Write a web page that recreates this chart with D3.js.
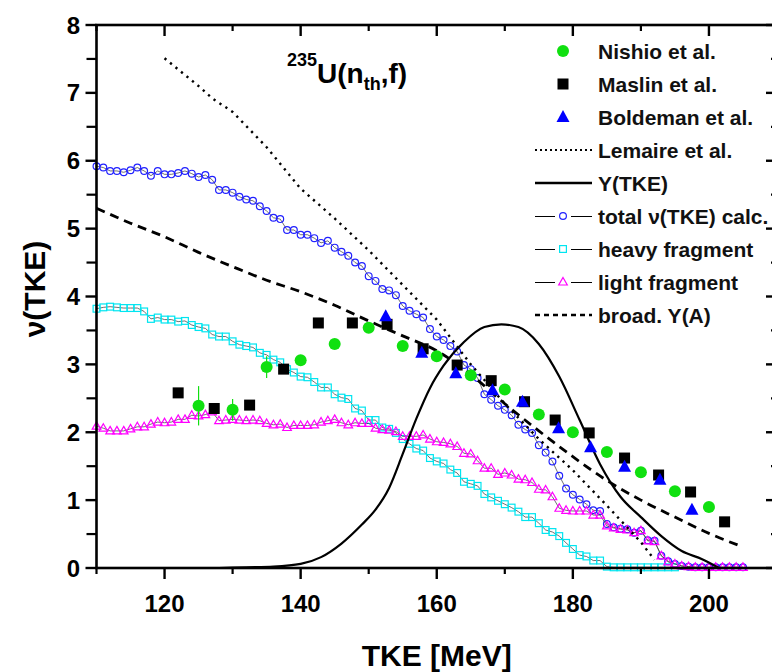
<!DOCTYPE html>
<html>
<head>
<meta charset="utf-8">
<script src="https://cdn.jsdelivr.net/npm/d3@7"></script>
<style>
  body { margin: 0; background: #fff; }
  svg { font-family: "Liberation Sans", Arial, sans-serif; font-weight: bold; }
</style>
</head>
<body>
<script>
//experimental data: Nishio et al.
var nishioTke = [125, 130, 135, 140, 145, 150, 155, 160, 165, 170, 175, 180, 185, 190, 195, 200];
var nishioNu = [2.39, 2.33, 2.96, 3.06, 3.30, 3.54, 3.27, 3.12, 2.84, 2.63, 2.26, 2.00, 1.71, 1.41, 1.13, 0.90];
var nishioErr = [0.29, 0.16, 0.16, 0.05, 0.05, 0.05, 0.05, 0.04, 0.04, 0.04, 0.04, 0.04, 0.04, 0.04, 0.04, 0.04];

//Maslin et al.
var maslinTke = [122, 127.3, 132.5, 137.5, 142.6, 147.6, 152.7, 158, 163, 168, 172.9, 177.4, 182.4, 187.6, 192.6, 197.3, 202.3];
var maslinNu = [2.58, 2.35, 2.40, 2.93, 3.61, 3.61, 3.59, 3.23, 2.99, 2.76, 2.45, 2.18, 1.99, 1.62, 1.37, 1.12, 0.68];

//Boldeman et al.
var boldemanTke = [152.5, 157.8, 162.8, 168.2, 172.6, 177.9, 182.6, 187.6, 192.8, 197.5];
var boldemanNu = [3.71, 3.17, 2.87, 2.62, 2.45, 2.06, 1.78, 1.49, 1.30, 0.86];

//Lemaire et al. (dotted)
var lemaireTke = [120, 125, 127, 130, 135, 140, 145, 150, 155, 160, 165, 170, 175, 180, 185, 190, 192];
var lemaireNu = [7.51, 7.10, 6.92, 6.72, 6.20, 5.59, 5.15, 4.68, 4.17, 3.66, 3.00, 2.42, 1.90, 1.44, 0.92, 0.38, 0.12];

//Y(TKE) (solid)
var yTke = [128, 132, 136, 140, 143, 146, 149, 151, 153, 155, 157, 159, 161, 164, 167, 169.5, 172, 175, 178, 181, 184, 187, 190, 193, 196, 199, 201.5];
var yVal = [0, 0.01, 0.02, 0.06, 0.16, 0.36, 0.64, 0.86, 1.18, 1.68, 2.20, 2.65, 2.98, 3.33, 3.55, 3.59, 3.55, 3.30, 2.82, 2.18, 1.53, 1.05, 0.75, 0.47, 0.25, 0.13, 0];

//broadened Y(A) (dashed)
var broadTke = [110, 115, 120, 125, 130, 135, 140, 145, 150, 155, 160, 165, 170, 175, 180, 185, 190, 195, 200, 205];
var broadNu = [5.30, 5.08, 4.88, 4.65, 4.44, 4.24, 4.07, 3.87, 3.64, 3.42, 3.20, 2.85, 2.42, 2.02, 1.64, 1.29, 1.00, 0.75, 0.51, 0.31];

//calculated values, one per MeV starting at 110
var calcStart = 110;
var totalNu = [5.92, 5.90, 5.85, 5.85, 5.83, 5.86, 5.90, 5.85, 5.78, 5.85,
  5.80, 5.80, 5.82, 5.85, 5.81, 5.76, 5.79, 5.72, 5.57, 5.57,
  5.53, 5.47, 5.43, 5.41, 5.33, 5.26, 5.16, 5.14, 4.98, 4.98,
  4.91, 4.91, 4.86, 4.79, 4.82, 4.72, 4.66, 4.60, 4.50, 4.45,
  4.30, 4.23, 4.11, 4.09, 4.02, 3.86, 3.79, 3.74, 3.69, 3.52,
  3.41, 3.36, 3.27, 3.19, 2.99, 2.93, 2.80, 2.56, 2.48, 2.39,
  2.33, 2.25, 2.11, 2.04, 1.99, 1.81, 1.70, 1.57, 1.36, 1.17,
  1.08, 1.01, 0.94, 0.85, 0.84, 0.65, 0.60, 0.58, 0.57, 0.52,
  0.55, 0.41, 0.40, 0.18, 0.10, 0.06, 0.03, 0.02, 0.01, 0.01,
  0.01, 0.01, 0.01, 0.01, 0.01, 0.01];
var heavyNu = [3.82, 3.84, 3.85, 3.84, 3.83, 3.83, 3.83, 3.78, 3.67, 3.69,
  3.66, 3.66, 3.63, 3.64, 3.58, 3.55, 3.53, 3.44, 3.41, 3.41,
  3.34, 3.29, 3.27, 3.25, 3.17, 3.14, 3.07, 3.03, 2.93, 2.88,
  2.82, 2.81, 2.74, 2.66, 2.66, 2.56, 2.51, 2.49, 2.35, 2.32,
  2.18, 2.18, 2.07, 2.05, 1.99, 1.90, 1.83, 1.76, 1.73, 1.62,
  1.57, 1.54, 1.45, 1.40, 1.27, 1.24, 1.21, 1.09, 1.04, 0.99,
  0.94, 0.89, 0.83, 0.75, 0.75, 0.66, 0.56, 0.53, 0.47, 0.37,
  0.28, 0.19, 0.17, 0.11, 0.11, 0.02, 0.01, 0.01, 0.01, 0.01,
  0.01, 0.01, 0.01, 0.01, 0.01, 0.01];
var lightNu = [2.09, 2.06, 2.02, 2.02, 2.02, 2.05, 2.08, 2.08, 2.12, 2.15,
  2.14, 2.15, 2.19, 2.19, 2.25, 2.24, 2.26, 2.30, 2.17, 2.18,
  2.19, 2.18, 2.17, 2.18, 2.17, 2.13, 2.11, 2.12, 2.07, 2.10,
  2.10, 2.10, 2.11, 2.15, 2.17, 2.19, 2.14, 2.11, 2.14, 2.13,
  2.13, 2.06, 2.04, 2.03, 2.01, 1.94, 1.94, 1.94, 1.96, 1.90,
  1.86, 1.85, 1.83, 1.79, 1.69, 1.68, 1.58, 1.47, 1.47, 1.38,
  1.40, 1.37, 1.31, 1.30, 1.26, 1.16, 1.15, 1.05, 0.88, 0.85,
  0.84, 0.84, 0.84, 0.78, 0.78, 0.62, 0.59, 0.57, 0.56, 0.52,
  0.55, 0.40, 0.39, 0.18, 0.09, 0.06, 0.03, 0.02, 0.01, 0.01,
  0.01, 0.01, 0.01, 0.01, 0.01, 0.01];

//axis ticks
var xMajor = [120, 140, 160, 180, 200];
var xMinor = [110, 130, 150, 170, 190, 210];
var yMajor = [0, 1, 2, 3, 4, 5, 6, 7, 8];
var yMinor = [0.5, 1.5, 2.5, 3.5, 4.5, 5.5, 6.5, 7.5];

//legend entries
var legendLabels = ["Nishio et al.", "Maslin et al.", "Boldeman et al.", "Lemaire et al.", "Y(TKE)",
  "total \u03bd(TKE) calc.", "heavy fragment", "light fragment", "broad. Y(A)"];
var legendKinds = ["nishio", "maslin", "boldeman", "lemaire", "ytke", "total", "heavy", "light", "broad"];

window.onload = setChart();

function setChart(){
  var width = 772, height = 672;
  //plot frame in pixels
  var pLeft = 96.5, pRight = 777, pTop = 25, pBottom = 568;

  var svg = d3.select("body").append("svg")
    .attr("width", width)
    .attr("height", height);

  var x = d3.scaleLinear().domain([110, 210]).range([pLeft, pRight]);
  var y = d3.scaleLinear().domain([0, 8]).range([pBottom, pTop]);

  function pairs(xs, ys){
    return xs.map(function(v, i){ return [v, ys[i]]; });
  }
  function calcPairs(vals){
    return vals.map(function(v, i){ return [calcStart + i, v]; });
  }

  var line = d3.line().x(function(d){ return x(d[0]); }).y(function(d){ return y(d[1]); });
  var smooth = d3.line().curve(d3.curveMonotoneX).x(function(d){ return x(d[0]); }).y(function(d){ return y(d[1]); });

  var plot = svg.append("g");

  //marker helper
  function drawMarker(g, kind, cx, cy){
    if (kind == "nishio") {
      g.append("circle").attr("cx", cx).attr("cy", cy).attr("r", 6).attr("fill", "#10e010");
    } else if (kind == "maslin") {
      g.append("rect").attr("x", cx - 5.5).attr("y", cy - 5.5).attr("width", 11).attr("height", 11).attr("fill", "#000");
    } else if (kind == "boldeman") {
      g.append("path").attr("d", "M" + cx + "," + (cy - 7) + "L" + (cx + 6.5) + "," + (cy + 5) + "L" + (cx - 6.5) + "," + (cy + 5) + "Z").attr("fill", "#0000ff");
    } else if (kind == "total") {
      g.append("circle").attr("cx", cx).attr("cy", cy).attr("r", 3.4).attr("fill", "none").attr("stroke", "#2020ff").attr("stroke-width", 1.2);
    } else if (kind == "heavy") {
      g.append("rect").attr("x", cx - 3.4).attr("y", cy - 3.4).attr("width", 6.8).attr("height", 6.8).attr("fill", "none").attr("stroke", "#00e5f0").attr("stroke-width", 1.2);
    } else if (kind == "light") {
      g.append("path").attr("d", "M" + cx + "," + (cy - 4.5) + "L" + (cx + 4.3) + "," + (cy + 3) + "L" + (cx - 4.3) + "," + (cy + 3) + "Z").attr("fill", "none").attr("stroke", "#ff00ff").attr("stroke-width", 1.2);
    }
  }

  //calculated series: thin connecting line and open markers
  [["total", totalNu], ["heavy", heavyNu], ["light", lightNu]].forEach(function(s){
    var data = calcPairs(s[1]);
    plot.append("path").datum(data).attr("d", line)
      .attr("fill", "none").attr("stroke", "#333").attr("stroke-width", 0.7);
    var g = plot.append("g");
    data.forEach(function(d){ drawMarker(g, s[0], x(d[0]), y(d[1])); });
  });

  //Lemaire dotted
  plot.append("path").datum(pairs(lemaireTke, lemaireNu)).attr("d", line)
    .attr("fill", "none").attr("stroke", "#000").attr("stroke-width", 2.4)
    .attr("stroke-dasharray", "2.3,4.8");

  //Y(TKE)
  plot.append("path").datum(pairs(yTke, yVal)).attr("d", smooth)
    .attr("fill", "none").attr("stroke", "#000").attr("stroke-width", 2.2);

  //broadened Y(A)
  plot.append("path").datum(pairs(broadTke, broadNu)).attr("d", smooth)
    .attr("fill", "none").attr("stroke", "#000").attr("stroke-width", 2.8)
    .attr("stroke-dasharray", "9,6");

  //Nishio error bars
  plot.selectAll(".err").data(pairs(nishioTke, nishioNu)).enter().append("line")
    .attr("class", "err")
    .attr("x1", function(d){ return x(d[0]); }).attr("x2", function(d){ return x(d[0]); })
    .attr("y1", function(d, i){ return y(d[1] - nishioErr[i]); })
    .attr("y2", function(d, i){ return y(d[1] + nishioErr[i]); })
    .attr("stroke", "#10e010").attr("stroke-width", 1.2);

  //experimental markers
  var exp = plot.append("g");
  pairs(nishioTke, nishioNu).forEach(function(d){ drawMarker(exp, "nishio", x(d[0]), y(d[1])); });
  pairs(maslinTke, maslinNu).forEach(function(d){ drawMarker(exp, "maslin", x(d[0]), y(d[1])); });
  pairs(boldemanTke, boldemanNu).forEach(function(d){ drawMarker(exp, "boldeman", x(d[0]), y(d[1])); });

  //frame
  var axes = svg.append("g").attr("stroke", "#000");
  axes.append("rect").attr("x", pLeft).attr("y", pTop).attr("width", pRight - pLeft).attr("height", pBottom - pTop)
    .attr("fill", "none").attr("stroke-width", 2.6);

  //left axis outward ticks, right axis inward ticks
  yMajor.forEach(function(v){
    axes.append("line").attr("x1", pLeft - 11).attr("x2", pLeft).attr("y1", y(v)).attr("y2", y(v)).attr("stroke-width", 2.4);
    axes.append("line").attr("x1", pRight - 11).attr("x2", pRight).attr("y1", y(v)).attr("y2", y(v)).attr("stroke-width", 2.4);
  });
  yMinor.forEach(function(v){
    axes.append("line").attr("x1", pLeft - 10).attr("x2", pLeft).attr("y1", y(v)).attr("y2", y(v)).attr("stroke-width", 2.2);
    axes.append("line").attr("x1", pRight - 6).attr("x2", pRight).attr("y1", y(v)).attr("y2", y(v)).attr("stroke-width", 2.2);
  });
  //bottom axis outward ticks, top axis inward ticks
  xMajor.forEach(function(v){
    axes.append("line").attr("x1", x(v)).attr("x2", x(v)).attr("y1", pBottom).attr("y2", pBottom + 11).attr("stroke-width", 2.4);
    axes.append("line").attr("x1", x(v)).attr("x2", x(v)).attr("y1", pTop).attr("y2", pTop + 11).attr("stroke-width", 2.4);
  });
  xMinor.forEach(function(v){
    axes.append("line").attr("x1", x(v)).attr("x2", x(v)).attr("y1", pBottom).attr("y2", pBottom + 6).attr("stroke-width", 2.2);
    axes.append("line").attr("x1", x(v)).attr("x2", x(v)).attr("y1", pTop).attr("y2", pTop + 6).attr("stroke-width", 2.2);
  });

  //tick labels
  svg.selectAll(".ylab").data(yMajor).enter().append("text")
    .attr("class", "ylab")
    .attr("x", 80).attr("y", function(d){ return y(d) + 8.5; })
    .attr("text-anchor", "end").attr("font-size", 24).text(function(d){ return d; });
  svg.selectAll(".xlab").data(xMajor).enter().append("text")
    .attr("class", "xlab")
    .attr("x", function(d){ return x(d); }).attr("y", 612)
    .attr("text-anchor", "middle").attr("font-size", 24).text(function(d){ return d; });

  //axis titles
  svg.append("text").attr("x", (pLeft + pRight) / 2).attr("y", 666)
    .attr("text-anchor", "middle").attr("font-size", 30).text("TKE [MeV]");
  svg.append("text").attr("transform", "translate(45,289) rotate(-90)")
    .attr("text-anchor", "middle").attr("font-size", 30).text("\u03bd(TKE)");

  //reaction label
  var title = svg.append("text").attr("x", 287).attr("y", 83);
  title.append("tspan").attr("font-size", 18).attr("dy", -17).text("235");
  title.append("tspan").attr("font-size", 28).attr("dy", 17).text("U(n");
  title.append("tspan").attr("font-size", 18).attr("dy", 7).text("th");
  title.append("tspan").attr("font-size", 28).attr("dy", -7).text(",f)");

  //legend
  var leg = svg.append("g");
  legendLabels.forEach(function(label, i){
    var ly = 51 + i * 33;
    var kind = legendKinds[i];
    if (kind == "lemaire") {
      leg.append("line").attr("x1", 535).attr("x2", 592).attr("y1", ly).attr("y2", ly)
        .attr("stroke", "#000").attr("stroke-width", 2).attr("stroke-dasharray", "2,3");
    } else if (kind == "ytke") {
      leg.append("line").attr("x1", 535).attr("x2", 592).attr("y1", ly).attr("y2", ly)
        .attr("stroke", "#000").attr("stroke-width", 2.4);
    } else if (kind == "broad") {
      leg.append("line").attr("x1", 535).attr("x2", 592).attr("y1", ly).attr("y2", ly)
        .attr("stroke", "#000").attr("stroke-width", 2.4).attr("stroke-dasharray", "5,4");
    } else if (kind == "total" || kind == "heavy" || kind == "light") {
      leg.append("line").attr("x1", 535).attr("x2", 555).attr("y1", ly + 0.5).attr("y2", ly + 0.5).attr("stroke", "#000").attr("stroke-width", 1);
      leg.append("line").attr("x1", 571).attr("x2", 592).attr("y1", ly + 0.5).attr("y2", ly + 0.5).attr("stroke", "#000").attr("stroke-width", 1);
      drawMarker(leg, kind, 563, ly);
    } else {
      drawMarker(leg, kind, 563, ly);
    }
    leg.append("text").attr("x", 598).attr("y", ly + 7.5).attr("font-size", 21).attr("fill", "#111").text(label);
  });
}
</script>
</body>
</html>
